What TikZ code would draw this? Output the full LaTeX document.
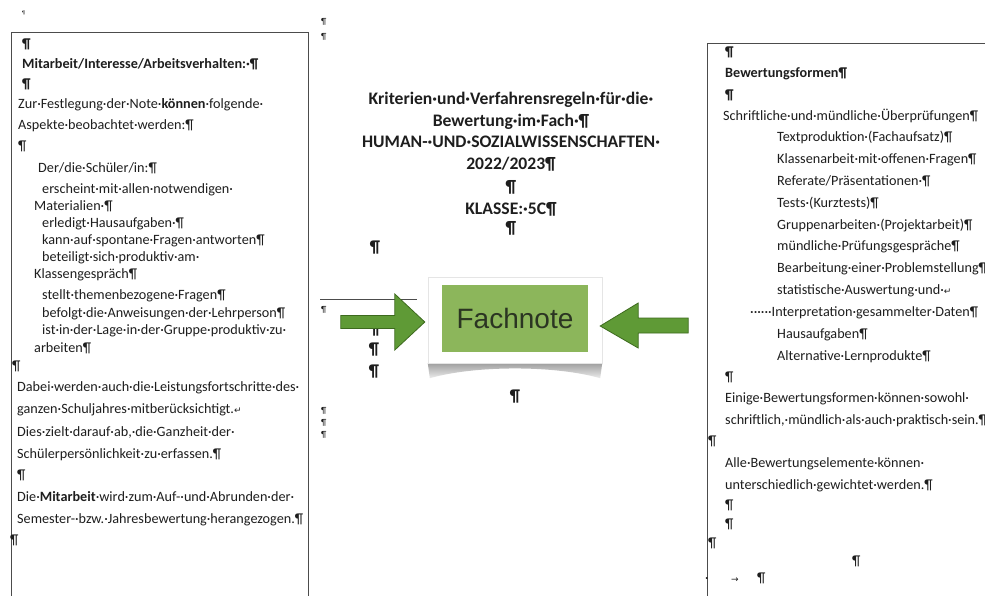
\documentclass[tikz,border=0pt]{standalone}
\usepackage{fontspec}
\setmainfont{Carlito}
\newfontfamily\symfont{DejaVu Sans}
\newfontfamily\arialfont{Liberation Sans}
\usetikzlibrary{calc}

\definecolor{txt}{HTML}{1E1E1E}
\definecolor{notegreen}{HTML}{8CB65B}
\definecolor{notetext}{HTML}{2B3522}
\definecolor{arrowgreen}{HTML}{5F9A36}
\definecolor{arrowedge}{HTML}{3D6A1E}

\tikzset{
  line/.style={anchor=west, inner sep=0pt, text height=10pt, text depth=2pt, text=txt, font=\fontsize{14.2}{16}\selectfont},
  titleline/.style={inner sep=0pt, text height=12pt, text depth=3pt, text=txt, font=\bfseries\fontsize{17.6}{20}\selectfont},
  bigpil/.style={inner sep=0pt, text=txt, font=\bfseries\fontsize{17}{18}\selectfont},
  smallpil/.style={anchor=west, inner sep=0pt, text=txt, font=\fontsize{9}{10}\selectfont},
  frame/.style={draw=gray!60!black, line width=0.9pt},
  greenarrow/.style={fill=arrowgreen, draw=arrowedge, line width=0.8pt, line join=miter},
}

\begin{document}
\begin{tikzpicture}[x=1pt,y=-1pt]
\useasboundingbox (0,0) rectangle (985,595);
\fill[white] (0,0) rectangle (985,595);

% the two text frames of the page
\draw[frame] (11,600) -- (11,32) -- (308,32) -- (308,600);
\draw[frame] (707,600) -- (707,43) -- (990,43);

% left frame
\foreach \x/\y/\t [count=\i] in {
  22/44/{\textbf{¶}},
  22/64/{\textbf{Mitarbeit/Interesse/Arbeitsverhalten:·¶}},
  22/84/{\textbf{¶}},
  18/104/{Zur·Festlegung·der·Note·\textbf{können}·folgende·},
  18/125/{Aspekte·beobachtet·werden:¶},
  18/146/{¶},
  38/168/{Der/die·Schüler/in:¶},
  42/189/{erscheint·mit·allen·notwendigen·},
  34/206/{Materialien·¶},
  42/223/{erledigt·Hausaufgaben·¶},
  42/240/{kann·auf·spontane·Fragen·antworten¶},
  42/257/{beteiligt·sich·produktiv·am·},
  34/274/{Klassengespräch¶},
  42/295/{stellt·themenbezogene·Fragen¶},
  42/313/{befolgt·die·Anweisungen·der·Lehrperson¶},
  42/330/{ist·in·der·Lage·in·der·Gruppe·produktiv·zu·},
  34/348/{arbeiten¶},
  12/366/{¶},
  17/387/{Dabei·werden·auch·die·Leistungsfortschritte·des·},
  17/409/{ganzen·Schuljahres·mitberücksichtigt.{\symfont\fontsize{9}{10}\selectfont ↵}},
  17/432/{Dies·zielt·darauf·ab,·die·Ganzheit·der·},
  17/454/{Schülerpersönlichkeit·zu·erfassen.¶},
  17/475/{¶},
  17/497/{Die·\textbf{Mitarbeit}·wird·zum·Auf-·und·Abrunden·der·},
  17/519/{Semester-·bzw.·Jahresbewertung·herangezogen.¶},
  10/540/{¶}}
  \node[line] (l\i) at (\x,\y) {\t};

% right frame
\foreach \x/\y/\t [count=\i] in {
  725/52/{\textbf{¶}},
  725/73/{\textbf{Bewertungsformen¶}},
  725/95/{\textbf{¶}},
  723/116/{Schriftliche·und·mündliche·Überprüfungen¶},
  777/137/{Textproduktion·(Fachaufsatz)¶},
  777/159/{Klassenarbeit·mit·offenen·Fragen¶},
  777/181/{Referate/Präsentationen·¶},
  777/203/{Tests·(Kurztests)¶},
  777/225/{Gruppenarbeiten·(Projektarbeit)¶},
  777/246/{mündliche·Prüfungsgespräche¶},
  777/268/{Bearbeitung·einer·Problemstellung¶},
  777/290/{statistische·Auswertung·und·{\symfont\fontsize{9}{10}\selectfont ↵}},
  750/312/{······Interpretation·gesammelter·Daten¶},
  777/334/{Hausaufgaben¶},
  777/356/{Alternative·Lernprodukte¶},
  725/377/{¶},
  725/398/{Einige·Bewertungsformen·können·sowohl·},
  725/420/{schriftlich,·mündlich·als·auch·praktisch·sein.¶},
  708/441/{¶},
  725/463/{Alle·Bewertungselemente·können·},
  725/485/{unterschiedlich·gewichtet·werden.¶},
  725/505/{¶},
  725/524/{¶},
  708/543/{¶},
  852/561/{¶},
  705/578/{·},
  731/578/{\symfont\fontsize{9}{10}\selectfont →},
  757/578/{¶}}
  \node[line] (r\i) at (\x,\y) {\t};

% heading
\foreach \y/\t [count=\i] in {
  100/{Kriterien·und·Verfahrensregeln·für·die·},
  122/{Bewertung·im·Fach·¶},
  143/{HUMAN-·UND·SOZIALWISSENSCHAFTEN·},
  165/{2022/2023¶},
  188/{¶},
  210/{KLASSE:·5C¶},
  229/{¶}}
  \node[titleline] (h\i) at (511,\y) {\t};

% loose marks
\node[smallpil, font=\fontsize{5}{6}\selectfont] (m0) at (22,13) {¶};
\foreach \y [count=\i] in {22,37,310,411,423,435}
  \node[smallpil] (m\i) at (321,\y) {¶};
\foreach \x/\y [count=\i] in {375/248, 375/330, 374/350, 374/372, 515/397}
  \node[bigpil] (p\i) at (\x,\y) {¶};
\draw[gray!60!black, line width=0.6pt] (320,299) -- (417,299);

% Fachnote card
\node[minimum width=174pt, minimum height=86pt, inner sep=0pt] (card) at (515,320) {};
\shade[top color=gray!75, bottom color=gray!15]
  (card.south west) -- ++(2,15) .. controls ($(card.south)+(-40,2)$) and ($(card.south)+(40,2)$) .. ($(card.south east)+(-2,15)$) -- (card.south east) -- cycle;
\node[fill=white, draw=gray!20, minimum width=174pt, minimum height=86pt, inner sep=0pt] at (card) {};
\node[fill=notegreen, minimum width=146pt, minimum height=67pt, inner sep=0pt, text=notetext, font=\arialfont\fontsize{28}{30}\selectfont] (note) at (515,318.5) {Fachnote};

% arrows
\draw[greenarrow] ($(card.west)+(-3,2)$) -- ++(-30,-28) -- ++(0,21.5) -- ++(-54,0) -- ++(0,13) -- ++(54,0) -- ++(0,21.5) -- cycle;
\draw[greenarrow] ($(card.east)+(-2,6)$) -- ++(38,-23) -- ++(0,15) -- ++(50,0) -- ++(0,15) -- ++(-50,0) -- ++(0,15) -- cycle;
\end{tikzpicture}
\end{document}
